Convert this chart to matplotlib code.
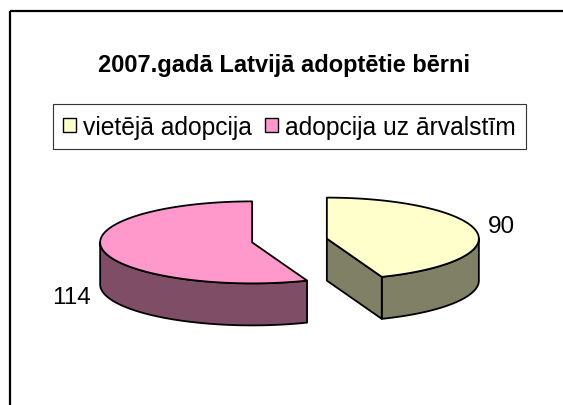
import numpy as np
import matplotlib
matplotlib.use("Agg")
import matplotlib.pyplot as plt
from matplotlib.patches import Polygon, Patch

# dati
kategorijas = ["vietējā adopcija", "adopcija uz ārvalstīm"]
vertibas = [90, 114]
virsraksts = "2007.gadā Latvijā adoptētie bērni"

krasas_virsa = ["#FFFFCC", "#FF99CC"]
krasas_sani = ["#808066", "#804D66"]

plt.rcParams['font.family'] = ['Liberation Sans', 'DejaVu Sans']

W, H = 563, 406
fig = plt.figure(figsize=(W / 100, H / 100), dpi=100)
ax = fig.add_axes([0, 0, 1, 1])
ax.set_xlim(0, W)
ax.set_ylim(H, 0)
ax.axis('off')

# ramis (labā un apakšējā mala ir ārpus attēla)
ax.plot([10, W + 5], [11.5, 11.5], color='black', lw=1.6, solid_capstyle='butt')
ax.plot([10, 10], [11.5, H + 5], color='black', lw=1.6, solid_capstyle='butt')

ax.text(284, 72, virsraksts, ha='center', va='baseline', fontsize=17, fontweight='bold')

# 3D pīrāga izkārtojums (pikseļos)
cx, cy = 289.5, 241.5
rx, ry = 152, 41
dzilums = 42
izvirzijums = 0.25


def punkts(xc, yc, th, dy=0):
    # leņķis pulksteņrādītāja virzienā no plkst. 12
    return xc + rx * np.sin(th), yc - ry * np.cos(th) + dy


kopa = sum(vertibas)
lenki = np.cumsum([0] + vertibas) / kopa * 2 * np.pi
malas = dict(ec='black', lw=1.3, joinstyle='round')

gabali = []
for i in range(len(vertibas)):
    a0, a1 = lenki[i], lenki[i + 1]
    vid = (a0 + a1) / 2
    xc = cx + izvirzijums * rx * np.sin(vid)
    yc = cy - izvirzijums * ry * np.cos(vid)
    gabali.append((a0, a1, xc, yc))

# zīmē pa kārtai: vispirms rozā, tad dzeltenais
for i in [1, 0]:
    a0, a1, xc, yc = gabali[i]
    # redzamā ārējā siena (priekšējā puse: pi/2 .. 3pi/2)
    s0, s1 = max(a0, np.pi / 2), min(a1, 3 * np.pi / 2)
    if s1 > s0:
        t = np.linspace(s0, s1, 80)
        x_aug, y_aug = punkts(xc, yc, t)
        x_ap, y_ap = punkts(xc, yc, t[::-1], dzilums)
        ax.add_patch(Polygon(np.column_stack([np.r_[x_aug, x_ap], np.r_[y_aug, y_ap]]),
                             fc=krasas_sani[i], **malas))
    # griezuma plakne beigu malā (redzama, ja vērsta pret skatītāju)
    if np.pi / 2 < a1 < 3 * np.pi / 2:
        ex, ey = punkts(xc, yc, a1)
        ax.add_patch(Polygon([(xc, yc), (ex, ey), (ex, ey + dzilums), (xc, yc + dzilums)],
                             fc=krasas_sani[i], **malas))
    # virsma
    t = np.linspace(a0, a1, 160)
    xs, ys = punkts(xc, yc, t)
    ax.add_patch(Polygon(np.column_stack([np.r_[xc, xs], np.r_[yc, ys]]),
                         fc=krasas_virsa[i], **malas))

# vērtību uzraksti
ax.text(501, 233, str(vertibas[0]), ha='center', va='baseline', fontsize=17.5)
ax.text(72, 304, str(vertibas[1]), ha='center', va='baseline', fontsize=17.5)

rokturi = [Patch(fc=krasas_virsa[i], ec='black', lw=1.0, label=kategorijas[i]) for i in range(2)]
leg = ax.legend(handles=rokturi, loc='center', bbox_to_anchor=(289.5 / W, 1 - 127.5 / H),
                ncol=2, fontsize=17.7, frameon=True, fancybox=False, framealpha=1,
                edgecolor='#333333', handlelength=0.5, handleheight=0.5,
                handletextpad=0.3, columnspacing=0.55, borderpad=0.42, borderaxespad=0)
leg.get_frame().set_linewidth(0.8)

fig.savefig("out.png", dpi=100)
